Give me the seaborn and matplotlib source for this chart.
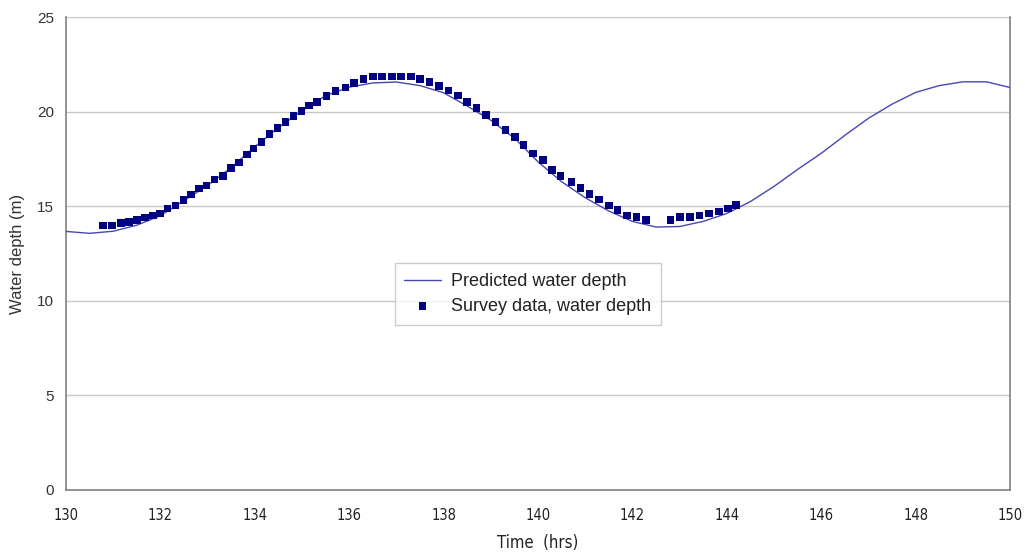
import matplotlib
matplotlib.use("Agg")
import matplotlib.pyplot as plt
import seaborn as sns
import pandas as pd

# Predicted water depth (model curve)
pred_time = [130.0, 130.5, 131.0, 131.5, 132.0, 132.5, 133.0, 133.5, 134.0, 134.5,
             135.0, 135.5, 136.0, 136.5, 137.0, 137.5, 138.0, 138.5, 139.0, 139.5,
             140.0, 140.5, 141.0, 141.5, 142.0, 142.5, 143.0, 143.5, 144.0, 144.5,
             145.0, 145.5, 146.0, 146.5, 147.0, 147.5, 148.0, 148.5, 149.0, 149.5, 150.0]
pred_depth = [13.67, 13.57, 13.68, 14.00, 14.50, 15.30, 16.10, 17.05, 18.15, 19.15,
              20.05, 20.85, 21.30, 21.52, 21.57, 21.38, 21.00, 20.30, 19.55, 18.60,
              17.35, 16.30, 15.45, 14.75, 14.20, 13.90, 13.93, 14.20, 14.62, 15.25,
              16.05, 16.95, 17.80, 18.75, 19.65, 20.40, 21.02, 21.38, 21.58, 21.58, 21.28]

# Survey data, water depth
survey_time = [130.79, 130.98, 131.16, 131.33, 131.50, 131.67, 131.84, 131.99, 132.15, 132.32,
               132.49, 132.65, 132.82, 132.98, 133.15, 133.32, 133.49, 133.67, 133.83, 133.97,
               134.14, 134.31, 134.48, 134.65, 134.82, 134.99, 135.15, 135.32, 135.52, 135.71,
               135.92, 136.10, 136.30, 136.50, 136.70, 136.90, 137.10, 137.31, 137.50, 137.70,
               137.90, 138.10, 138.31, 138.49, 138.70, 138.90, 139.10, 139.31, 139.51, 139.69,
               139.89, 140.10, 140.29, 140.48, 140.71, 140.90, 141.09, 141.29, 141.50, 141.68,
               141.88, 142.09, 142.29, 142.81, 143.01, 143.22, 143.42, 143.62, 143.83, 144.03,
               144.19]
survey_depth = [13.99, 13.99, 14.12, 14.17, 14.28, 14.40, 14.51, 14.62, 14.89, 15.05,
                15.32, 15.62, 15.93, 16.10, 16.42, 16.60, 17.01, 17.31, 17.73, 18.05,
                18.40, 18.83, 19.15, 19.44, 19.76, 20.04, 20.32, 20.52, 20.82, 21.10,
                21.29, 21.53, 21.72, 21.86, 21.87, 21.87, 21.87, 21.87, 21.74, 21.56,
                21.35, 21.12, 20.85, 20.50, 20.21, 19.82, 19.44, 19.04, 18.65, 18.23,
                17.80, 17.45, 16.91, 16.60, 16.28, 15.96, 15.64, 15.36, 15.04, 14.79,
                14.51, 14.44, 14.29, 14.29, 14.44, 14.44, 14.51, 14.61, 14.72, 14.89,
                15.07]

x_ticks = list(range(130, 151, 2))
y_ticks = [0, 5, 10, 15, 20, 25]

sns.set_style("white")
plt.rcParams['font.family'] = ['Liberation Sans', 'DejaVu Sans']

fig = plt.figure(figsize=(10.25, 5.53), dpi=100)
ax = fig.add_axes([0.0644, 0.114, 0.921, 0.855])

pred_df = pd.DataFrame({"t": pred_time, "d": pred_depth})
surv_df = pd.DataFrame({"t": survey_time, "d": survey_depth})

sns.lineplot(data=pred_df, x="t", y="d", ax=ax, color="#4646b4", linewidth=1.0,
             label="Predicted water depth", zorder=3)
sns.scatterplot(data=surv_df, x="t", y="d", ax=ax, color="#000080", marker="s",
                s=30, edgecolor="none", linewidth=0,
                label="Survey data, water depth", zorder=4)

ax.set_xlim(130, 150)
ax.set_ylim(0, 25)
ax.set_xticks(x_ticks)
ax.set_yticks(y_ticks)
ax.yaxis.grid(True, color="#c8c8c8", linewidth=1.0)
ax.xaxis.grid(False)
ax.set_axisbelow(True)

for side in ["left", "bottom", "right"]:
    ax.spines[side].set_visible(True)
    ax.spines[side].set_color("#808080")
    ax.spines[side].set_linewidth(1.2)
ax.spines["top"].set_visible(False)

ax.tick_params(axis="both", which="both", direction="out", length=5, width=1,
               color="#808080", labelcolor="#333333", labelsize=11)
ax.tick_params(axis="x", pad=8, labelcolor="#222222")
for lbl in ax.get_xticklabels():
    lbl.set_family(['DejaVu Sans'])
    lbl.set_fontstretch('condensed')
    lbl.set_fontsize(10.5)

ax.set_xlabel("Time  (hrs)", fontsize=12, color="#222222", labelpad=8,
              family=['DejaVu Sans'], fontstretch='condensed')
ax.set_ylabel("Water depth (m)", fontsize=12, color="#333333", labelpad=9)

leg = ax.legend(loc="lower left", bbox_to_anchor=(0.348, 0.349), fontsize=13,
                frameon=True, fancybox=False, edgecolor="#c0c0c0",
                handlelength=2.0, handletextpad=0.55, borderpad=0.55,
                labelspacing=0.45, borderaxespad=0)
leg.get_frame().set_linewidth(1.0)
for t in leg.get_texts():
    t.set_color("#222222")

fig.savefig("out.png", dpi=100)
